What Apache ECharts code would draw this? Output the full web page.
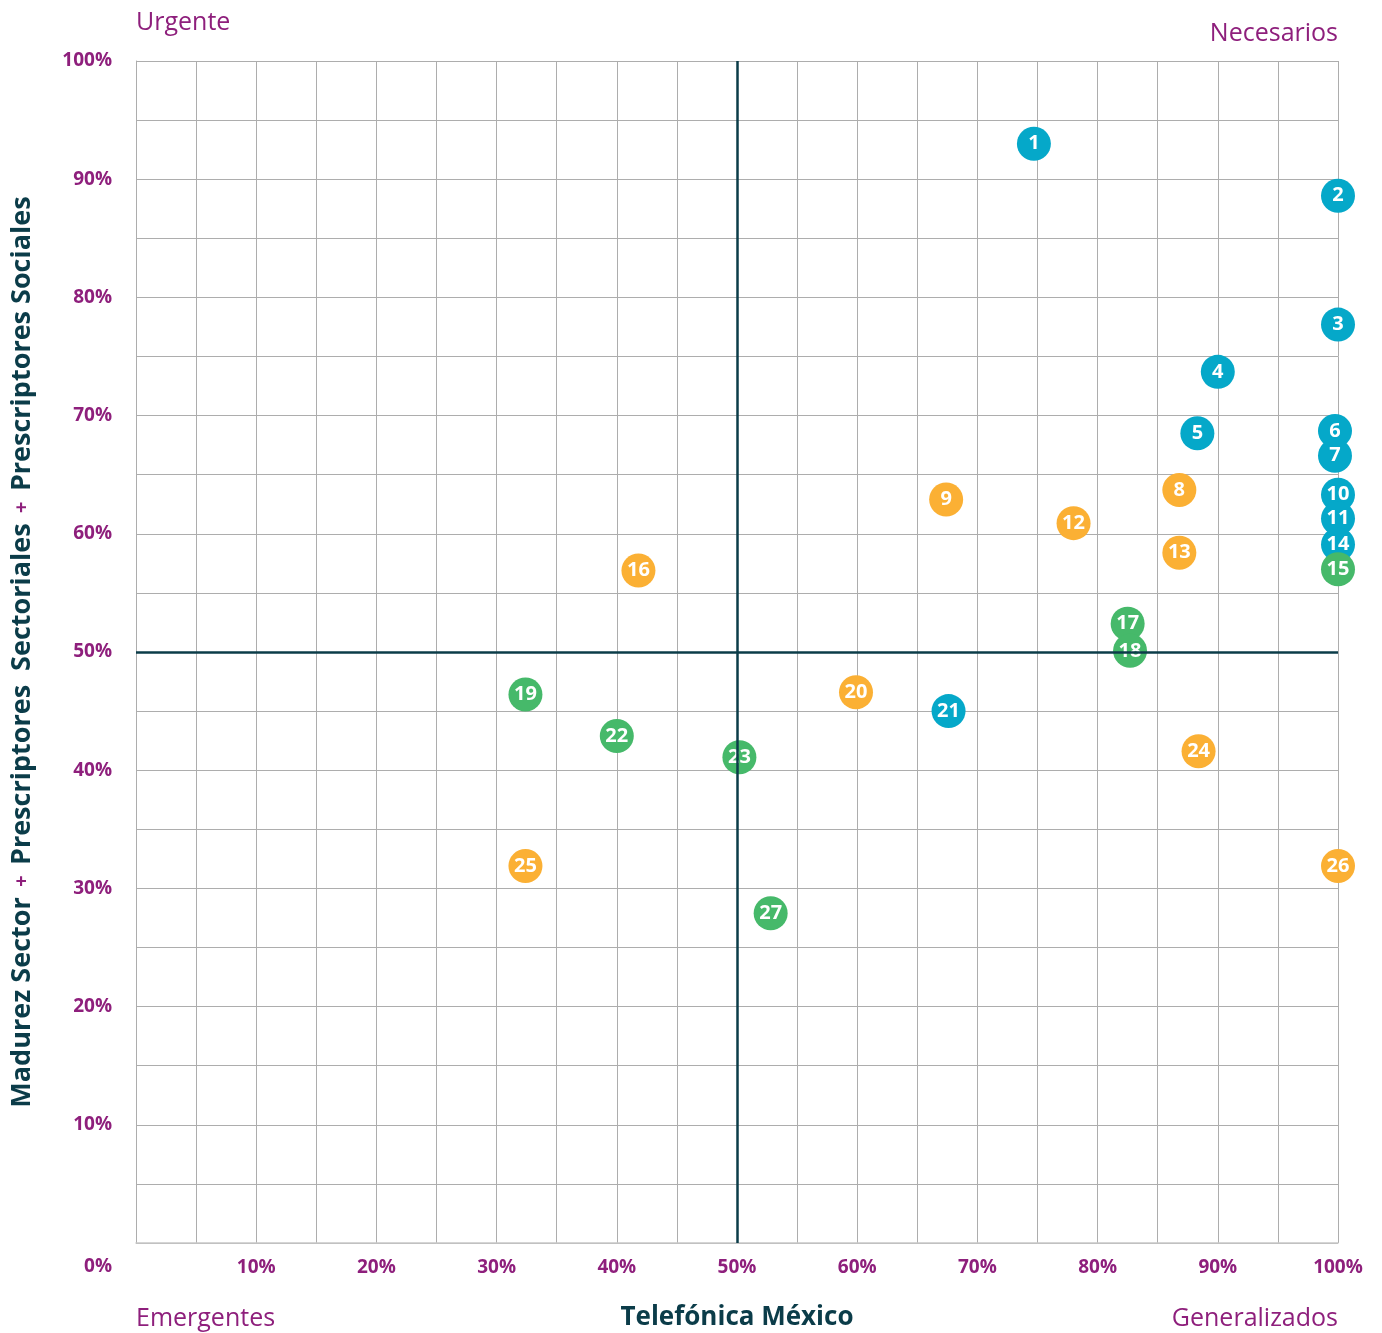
<!DOCTYPE html>
<html>
<head>
<meta charset="utf-8">
<script src="https://cdn.jsdelivr.net/npm/echarts@6/dist/echarts.min.js"></script>
<style>
html,body{margin:0;padding:0;background:#fff;}
#chart{width:1382px;height:1333px;}
</style>
</head>
<body>
<div id="chart"></div>
<script>
// ---- data ----
const pointIds = [1,2,3,4,5,6,7,8,9,10,11,12,13,14,15,16,17,18,19,20,21,22,23,24,25,26,27];
const xValues  = [74.7,100,100,90.0,88.3,99.75,99.75,86.8,67.4,100,100,78.0,86.8,100,100,41.8,82.5,82.7,32.4,59.9,67.6,40.0,50.2,88.4,32.4,100,52.8];
const yValues  = [93.0,88.6,77.7,73.7,68.5,68.7,66.6,63.7,62.9,63.3,61.3,60.9,58.4,59.1,57.0,56.9,52.4,50.1,46.4,46.6,45.0,42.9,41.1,41.6,31.9,31.9,27.9];
const groups   = ['blue','blue','blue','blue','blue','blue','blue','orange','orange','blue','blue','orange','orange','blue','green','orange','green','green','green','orange','blue','green','green','orange','orange','orange','green'];
const groupColors = {blue:'#05A8C9', orange:'#FBB034', green:'#46B96A'};
const xTitle = 'Telefónica México';
const yTitleParts = ['Madurez Sector','Prescriptores  Sectoriales','Prescriptores Sociales'];
const cornerLabels = {tl:'Urgente', tr:'Necesarios', bl:'Emergentes', br:'Generalizados'};

const purple = '#8E1F7C';
const dark = '#0B3C49';
const gridColor = '#ADADAD';
const FONT = '"Open Sans", "Noto Sans", sans-serif';

const chart = echarts.init(document.getElementById('chart'), null, {renderer:'canvas'});

const data = pointIds.map((id,i)=>({
  value:[xValues[i], yValues[i], id],
  itemStyle:{color: groupColors[groups[i]], opacity:1}
}));

const pctFmt = v => (v % 10 === 0 && v !== 0) ? v + '%' : '';

const option = {
  backgroundColor:'#fff',
  animation:false,
  grid:{left:136, right:44, top:61, bottom:90, containLabel:false, outerBoundsMode:'none'},
  xAxis:{
    type:'value', min:0, max:100, interval:5,
    axisLine:{show:true, lineStyle:{color:'#C8C8C8', width:1.5}},
    axisTick:{show:false},
    splitLine:{show:true, lineStyle:{color:gridColor, width:1}},
    axisLabel:{formatter:pctFmt, color:purple, fontWeight:'bold', fontSize:19, fontFamily:FONT, margin:15, showMinLabel:true, showMaxLabel:true},
    name:xTitle, nameLocation:'middle', nameGap:62,
    nameTextStyle:{color:dark, fontWeight:'bold', fontSize:26, fontFamily:FONT}
  },
  yAxis:{
    type:'value', min:0, max:100, interval:5,
    axisLine:{show:true, lineStyle:{color:gridColor, width:1}},
    axisTick:{show:false},
    splitLine:{show:true, lineStyle:{color:gridColor, width:1}},
    axisLabel:{formatter:pctFmt, color:purple, fontWeight:'bold', fontSize:19, fontFamily:FONT, margin:24},
    name: '{a|' + yTitleParts[0] + '}{p|  +  }{a|' + yTitleParts[1] + '}{p|  +  }{a|' + yTitleParts[2] + '}',
    nameLocation:'middle', nameGap:100, nameRotate:90,
    nameTextStyle:{
      rich:{
        a:{color:dark, fontWeight:'bold', fontSize:27, fontFamily:FONT},
        p:{color:purple, fontWeight:'bold', fontSize:20, fontFamily:FONT}
      }
    }
  },
  series:[{
    type:'scatter',
    symbol:'circle',
    symbolSize:34,
    data:data,
    label:{
      show:true, position:'inside',
      formatter:p=>String(p.value[2]),
      color:'#fff', fontWeight:'bold', fontSize:20, fontFamily:FONT
    },
    emphasis:{disabled:true},
    markLine:{
      silent:true, symbol:['none','none'],
      label:{show:false},
      lineStyle:{color:dark, width:2.5, type:'solid'},
      data:[{xAxis:50},{yAxis:50}]
    },
    z:3
  }],
  graphic:[
    {type:'text', left:136, top:10, style:{text:cornerLabels.tl, fill:purple, fontSize:25, fontFamily:FONT}},
    {type:'text', right:44, top:21, style:{text:cornerLabels.tr, fill:purple, fontSize:25, fontFamily:FONT}},
    {type:'text', left:136, top:1306, style:{text:cornerLabels.bl, fill:purple, fontSize:25, fontFamily:FONT}},
    {type:'text', right:44, top:1306, style:{text:cornerLabels.br, fill:purple, fontSize:25, fontFamily:FONT}},
    {type:'text', right:1270, top:1257, style:{text:'0%', fill:purple, fontSize:19, fontWeight:'bold', fontFamily:FONT}}
  ]
};
chart.setOption(option);
</script>
</body>
</html>
